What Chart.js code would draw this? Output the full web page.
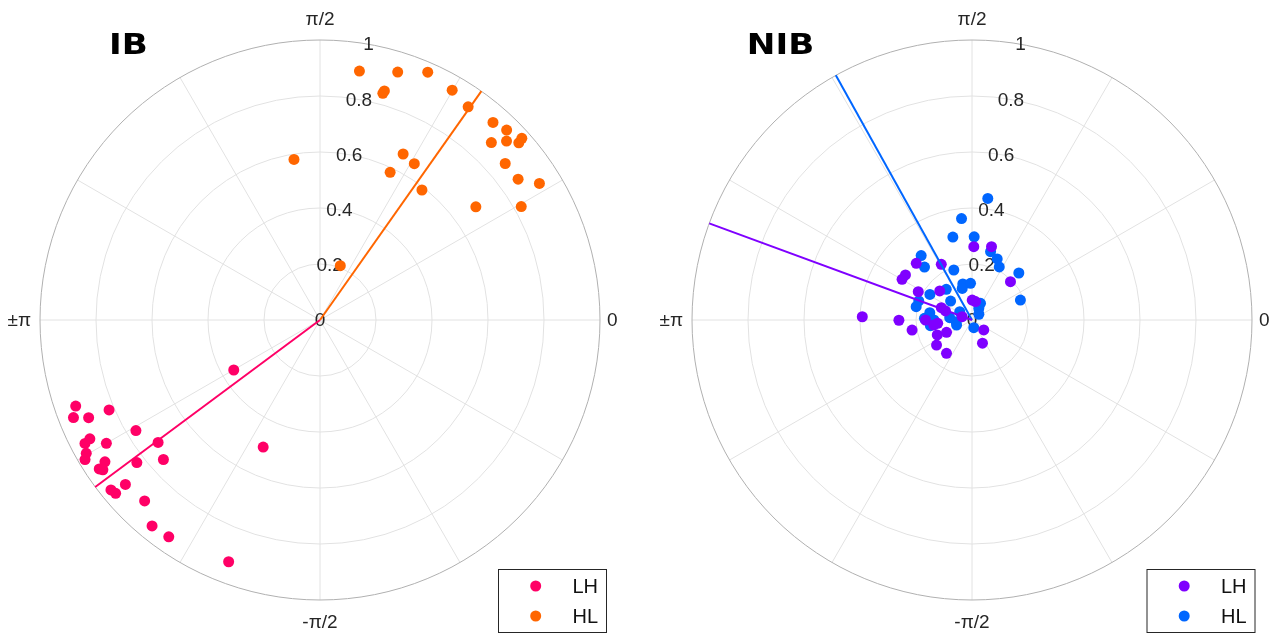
<!doctype html>
<html lang="en">
<head>
  <meta charset="UTF-8">
  <title>IB / NIB</title>
  <script src="https://cdn.jsdelivr.net/npm/chart.js@4.4.0/dist/chart.umd.min.js"></script>
  <style>
      body { margin: 0; background: #fff; }
      .wrap { position: relative; width: 1273px; height: 634px; overflow: hidden; }
      canvas { position: absolute; top: 0; }
      #ib { left: 0; }
      #nib { left: 652px; }
  </style>
</head>
<body>

<div class="wrap">
  <canvas id="ib" width="640" height="634"></canvas>
  <canvas id="nib" width="621" height="634"></canvas>
</div>

<script>
  // angles in degrees, radius 0..1
  const seriesNames = ['LH', 'HL']
  const rTicks = [0, 0.2, 0.4, 0.6, 0.8, 1]
  const spokeAngles = [0, 30, 60, 90, 120, 150, 180, 210, 240, 270, 300, 330]
  const thetaLabels = ['0', 'π/2', '±π', '-π/2']

  const ibLhTheta = [-149.9, -160.6, -156.9, -158.4, -157.1, -149.0, -152.7, -152.3, -150.0, -142.9,
    -150.3, -149.3, -146.6, -142.1, -138.3, -146.0, -145.4, -139.8, -140.9, -139.7,
    -134.1, -129.2, -124.9, -110.7, -114.1]
  const ibLhRho = [0.356, 0.925, 0.819, 0.947, 0.897, 0.767, 0.925, 0.948, 0.881, 0.725,
    0.961, 0.976, 0.920, 0.829, 0.749, 0.951, 0.942, 0.910, 0.962, 0.957,
    0.900, 0.949, 0.944, 0.923, 0.497]

  const ibHlTheta = [81.0, 72.6, 66.5, 74.5, 74.3, 60.1, 55.2, 48.8, 45.5, 46.0,
    43.8, 41.7, 42.0, 40.2, 35.4, 31.9, 36.0, 29.4, 99.2, 63.4,
    58.9, 64.6, 51.9, 69.5]
  const ibHlRho = [0.900, 0.928, 0.965, 0.840, 0.850, 0.947, 0.927, 0.938, 0.951, 0.881,
    0.923, 0.951, 0.970, 0.866, 0.868, 0.923, 0.688, 0.825, 0.581, 0.663,
    0.652, 0.584, 0.590, 0.207]

  const nibLhTheta = [88.6, 75.1, 134.5, 118.9, 145.9, 149.8, 44.9, 138.0, 152.2, 89.4,
    79.2, 158.2, 161.2, 178.3, -179.8, 180, -174.5, -170.5, -40.3, -156.7,
    -154.2, -144.8, -65.7, -127.4, -172.5, 161.4]
  const nibLhRho = [0.262, 0.271, 0.284, 0.227, 0.287, 0.289, 0.194, 0.155, 0.217, 0.071,
    0.067, 0.118, 0.100, 0.392, 0.261, 0.166, 0.123, 0.217, 0.055, 0.135,
    0.101, 0.155, 0.091, 0.150, 0.138, 0.037]

  const nibHlTheta = [82.6, 95.9, 103.0, 88.5, 74.8, 67.6, 62.8, 45.1, 22.4, 128.3,
    131.9, 110.0, 104.3, 92.3, 107.2, 130.0, 148.7, 138.5, 160.3, 166.6,
    63.0, 59.8, 40.0, 145.8, 170.2, 178.0, 174.1, -173.9, -172.2, -162.1,
    -76.8, 180]
  const nibHlRho = [0.438, 0.364, 0.304, 0.297, 0.253, 0.236, 0.213, 0.237, 0.187, 0.293,
    0.254, 0.190, 0.133, 0.131, 0.118, 0.143, 0.176, 0.102, 0.202, 0.205,
    0.067, 0.048, 0.032, 0.053, 0.153, 0.170, 0.080, 0.057, 0.150, 0.058,
    0.028, 0.136]

  // mean direction [LH, HL], drawn out to r = 1
  const ibMeanTheta = [-143.4, 54.8]
  const nibMeanTheta = [159.8, 119.1]

  const ibColors = ['#ff0066', '#ff6600']
  const nibColors = ['#7f00ff', '#0066ff']

  const rad = Math.PI / 180
  const TEXT = '#262626'

  function toXY(theta, rho) {
    return theta.map((t, i) => ({x: rho[i] * Math.cos(t * rad), y: rho[i] * Math.sin(t * rad)}))
  }

  const polarGrid = {
    id: 'polarGrid',
    beforeDatasetsDraw(chart) {
      const {ctx, scales: {x, y}} = chart
      const cx = x.getPixelForValue(0), cy = y.getPixelForValue(0)
      const R = x.getPixelForValue(1) - cx
      ctx.save()
      ctx.lineWidth = 1
      ctx.strokeStyle = '#e2e2e2'
      spokeAngles.forEach(a => {
        ctx.beginPath()
        ctx.moveTo(cx, cy)
        ctx.lineTo(cx + R * Math.cos(a * rad), cy - R * Math.sin(a * rad))
        ctx.stroke()
      })
      rTicks.forEach(r => {
        if (r === 0) return
        ctx.beginPath()
        ctx.strokeStyle = r === 1 ? '#b0b0b0' : '#e2e2e2'
        ctx.arc(cx, cy, r * R, 0, Math.PI * 2)
        ctx.stroke()
      })
      ctx.fillStyle = TEXT
      ctx.font = '19px "Liberation Sans", Arial, sans-serif'
      ctx.textAlign = 'center'
      ctx.textBaseline = 'middle'
      rTicks.forEach(r => {
        ctx.fillText(String(r), cx + r * R * Math.cos(80 * rad), cy - r * R * Math.sin(80 * rad) + 1)
      })
      ctx.textAlign = 'left'
      ctx.fillText(thetaLabels[0], cx + R + 7, cy + 1)
      ctx.textAlign = 'right'
      ctx.fillText(thetaLabels[2], cx - R - 9, cy + 1)
      ctx.textAlign = 'center'
      ctx.fillText(thetaLabels[1], cx, cy - R - 20)
      ctx.fillText(thetaLabels[3], cx, cy + R + 23)
      ctx.restore()
    },
    afterDraw(chart, args, opts) {
      const {ctx, scales: {x, y}} = chart
      const cx = x.getPixelForValue(0), cy = y.getPixelForValue(0)
      ctx.save()
      // panel title
      ctx.fillStyle = '#000'
      ctx.font = 'bold 29px "DejaVu Sans", sans-serif'
      ctx.textAlign = 'center'
      ctx.textBaseline = 'alphabetic'
      ctx.translate(cx - 191.5, 53.5)
      ctx.scale(1.18, 1)
      ctx.fillText(opts.title, 0, 0)
      ctx.restore()

      // legend box
      ctx.save()
      const bx = cx + opts.legendX, by = 569.5
      ctx.fillStyle = '#fff'
      ctx.fillRect(bx, by, 108, 63)
      ctx.strokeStyle = '#262626'
      ctx.lineWidth = 1
      ctx.strokeRect(bx, by, 108, 63)
      ctx.font = '20px "Liberation Sans", Arial, sans-serif'
      ctx.textAlign = 'left'
      ctx.textBaseline = 'middle'
      seriesNames.forEach((name, i) => {
        const ly = 586 + i * 30
        ctx.fillStyle = opts.colors[i]
        ctx.beginPath()
        ctx.arc(bx + 37.2, ly, 5.5, 0, Math.PI * 2)
        ctx.fill()
        ctx.fillStyle = '#111'
        ctx.fillText(name, bx + 74, ly + 1)
      })
      ctx.restore()
    }
  }

  function makePanel(id, title, lhTheta, lhRho, hlTheta, hlRho, meanTheta, colors, padRight, legendX) {
    const lines = meanTheta.map((t, i) => ({
      label: seriesNames[i] + ' mean',
      data: toXY([0, t], [0, 1]),
      showLine: true,
      borderColor: colors[i],
      borderWidth: 2,
      pointRadius: 0
    }))
    const dots = [[lhTheta, lhRho], [hlTheta, hlRho]].map((s, i) => ({
      label: seriesNames[i],
      data: toXY(s[0], s[1]),
      backgroundColor: colors[i],
      borderWidth: 0,
      pointRadius: 5.5
    }))
    return new Chart(document.getElementById(id), {
      type: 'scatter',
      data: {datasets: [...lines, ...dots]},
      options: {
        responsive: false,
        animation: false,
        layout: {padding: {left: 40, right: padRight, top: 40, bottom: 34}},
        scales: {
          x: {type: 'linear', min: -1, max: 1, display: false},
          y: {type: 'linear', min: -1, max: 1, display: false}
        },
        plugins: {
          legend: {display: false},
          tooltip: {enabled: false},
          polarGrid: {title: title, colors: colors, legendX: legendX}
        }
      },
      plugins: [polarGrid]
    })
  }

  makePanel('ib', 'IB', ibLhTheta, ibLhRho, ibHlTheta, ibHlRho, ibMeanTheta, ibColors, 40, 178.5)
  makePanel('nib', 'NIB', nibLhTheta, nibLhRho, nibHlTheta, nibHlRho, nibMeanTheta, nibColors, 21, 175)
</script>

</body>
</html>
